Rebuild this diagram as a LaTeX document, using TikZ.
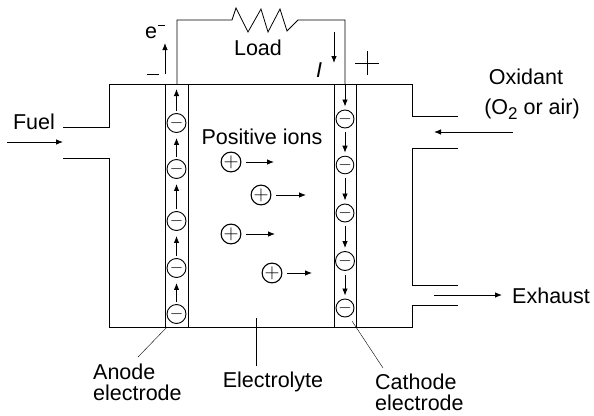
\documentclass[tikz,border=0pt]{standalone}
\usepackage{fontspec}
\setmainfont{Liberation Sans}
\usepackage{amsmath}
\usetikzlibrary{arrows.meta, positioning}
\tikzset{
  wall/.style={line width=.9pt},
  flow/.style={line width=.8pt, -{Latex[length=7pt, width=5.5pt]}},
  leader/.style={line width=.4pt},
  label/.style={inner sep=0pt, align=left, font=\fontsize{21.5}{21}\selectfont},
  electron/.style={draw, circle, line width=.9pt, inner sep=0pt, minimum size=19pt, font=\fontsize{18}{18}\selectfont},
  ion/.style={draw, circle, line width=1.1pt, inner sep=0pt, minimum size=19pt, font=\fontsize{21}{21}\selectfont}
}
\begin{document}
\begin{tikzpicture}[x=1pt, y=-1pt]
        \useasboundingbox (0, 0) rectangle (594, 415);
        % cell walls
        \draw[wall] (63, 127) -- (109, 127) -- (109, 84) -- (412, 84) -- (412, 116) -- (458, 116);
        \draw[wall] (63, 158) -- (109, 158) -- (109, 327) -- (412, 327) -- (412, 305) -- (458, 305);
        \draw[wall] (458, 148) -- (412, 148) -- (412, 285) -- (458, 285);
        % electrodes
        \draw[wall] (165, 84) rectangle (188, 327);
        \draw[wall] (334, 84) rectangle (356, 327);
        % external circuit
        \draw[line width=.8pt] (177, 84) -- (177, 20) -- (232, 20) -- (236, 8) -- (248, 32) -- (261, 9) -- (268, 32)
          -- (280, 9) -- (287, 31) -- (298, 20) -- (345, 20) -- (345, 84);
        % electrons
        \foreach \ypos [count = \n] in {123, 169, 221, 268, 314}{
          \node[electron] (anode\n) at (176.5, \ypos) {\(-\)};
        }
        \foreach \ypos/\size [count = \n] in {119/18, 165/15, 213/18, 261/19, 308/18}{
          \node[electron, minimum size=\size pt] (cathode\n) at (345, \ypos) {\(-\)};
        }
        \foreach \n [count = \m from 2] in {1, 2, 3, 4}{
          \draw[flow, shorten >=5pt, shorten <=2pt] (anode\m) -- (anode\n);
          \draw[flow, shorten >=3pt, shorten <=4pt] (cathode\n) -- (cathode\m);
        }
        \coordinate (anodetop) at (176.5, 89);
        \coordinate (cathodetop) at (345, 84);
        \draw[flow, shorten <=2pt] (anode1) -- (anodetop);
        \draw[flow, shorten >=3pt] (cathodetop) -- (cathode1);
        % positive ions
        \foreach \xpos/\ypos/\tip [count = \n] in {231/162/274, 261/195/306, 231/234/275, 272/273/312}{
          \node[ion] (ion\n) at (\xpos, \ypos) {\(+\)};
          \coordinate (iontip\n) at (\tip, \ypos);
          \draw[flow, shorten <=5pt] (ion\n) -- (iontip\n);
        }
        % labels
        \node[label] (load) at (258, 48) {Load};
        \node[label] (positive) at (262, 137) {Positive ions};
        \node[label] (fuel) at (34, 122) {Fuel};
        \node[label] (oxidant) at (526, 77) {Oxidant};
        \node[label, anchor=base] (oxidantsub) at (532, 114) {(O\raisebox{-5pt}{\fontsize{17}{17}\selectfont 2} or air)};
        \node[label, anchor=west] (exhaust) at (512, 296) {Exhaust};
        \node[label, anchor=north west] (anode) at (93, 364) {Anode\\[-.5pt]electrode};
        \node[label] (electrolyte) at (273, 382) {Electrolyte};
        \node[label, anchor=north west] (cathode) at (375, 374) {Cathode\\[-.5pt]electrode};
        \node[label] (electron) at (151, 33) {e};
        \node[label, font=\fontsize{21.5}{21}\itshape] (current) at (319, 70) {I};
        % polarity marks
        \draw[line width=.8pt] (147, 74) -- (159, 74);
        \draw[line width=.5pt] (158, 25) -- (165, 25);
        \draw[line width=.8pt] (355, 63) -- (379, 63);
        \draw[line width=.8pt] (367, 51) -- (367, 75);
        % flow arrows outside the cell
        \coordinate (fuelstart) at (7, 142);
        \coordinate (fueltip) at (63, 142);
        \coordinate (oxidantstart) at (513, 132);
        \coordinate (oxidanttip) at (434, 132);
        \coordinate (exhauststart) at (434, 295);
        \coordinate (exhausttip) at (502, 295);
        \coordinate (electronstart) at (165, 74);
        \coordinate (electrontip) at (165, 43);
        \coordinate (currentstart) at (334, 32);
        \coordinate (currenttip) at (334, 63);
        \draw[flow] (fuelstart) -- (fueltip);
        \draw[flow] (oxidantstart) -- (oxidanttip);
        \draw[flow] (exhauststart) -- (exhausttip);
        \draw[flow] (electronstart) -- (electrontip);
        \draw[flow] (currentstart) -- (currenttip);
        % leaders
        \coordinate (anodefoot) at (167, 327);
        \coordinate (anodelabel) at (138, 357);
        \coordinate (electrolytefoot) at (256, 318);
        \coordinate (electrolytelabel) at (256, 366);
        \coordinate (cathodefoot) at (352, 321);
        \coordinate (cathodelabel) at (383, 368);
        \draw[leader] (anodefoot) -- (anodelabel);
        \draw[wall] (electrolytefoot) -- (electrolytelabel);
        \draw[leader] (cathodefoot) -- (cathodelabel);
      \end{tikzpicture}
\end{document}
